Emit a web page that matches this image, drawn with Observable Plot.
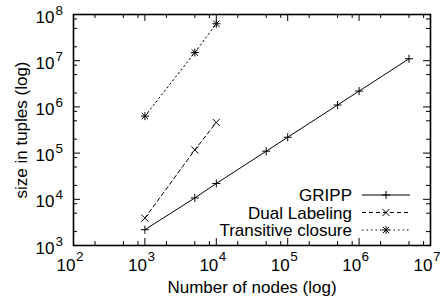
<!DOCTYPE html>
<html><head><meta charset="utf-8">
<script src="https://cdn.jsdelivr.net/npm/d3@7"></script>
<script src="https://cdn.jsdelivr.net/npm/@observablehq/plot@0.6"></script>
<style>
body{margin:0;background:#fff}
#chart{width:443px;height:299px}
</style></head><body><div id="chart"></div>
<script>
// ---- data ----
const nodesGRIPP  = [1e3, 5e3, 1e4, 5e4, 1e5, 5e5, 1e6, 5e6];
const tuplesGRIPP = [2200, 10700, 22000, 110000, 220000, 1.1e6, 2.2e6, 1.1e7];
const nodesDual   = [1e3, 5e3, 1e4];
const tuplesDual  = [3900, 1.17e5, 4.6e5];
const nodesTC     = [1e3, 5e3, 1e4];
const tuplesTC    = [6.3e5, 1.5e7, 6.3e7];
const seriesNames = ["GRIPP", "Dual Labeling", "Transitive closure"];
const xTickExps = [2, 3, 4, 5, 6, 7];
const yTickExps = [3, 4, 5, 6, 7, 8];
const minorMultipliers = [2, 5, 8];
const xLabel = "Number of nodes (log)";
const yLabel = "size in tuples (log)";

// ---- layout ----
const W = 443, H = 299;
const mL = 73, mR = 13, mT = 14, mB = 54;
const innerW = W - mL - mR, innerH = H - mT - mB;
const FONT = "'Liberation Sans', Arial, Helvetica, sans-serif";
const FS = 17, FSsup = 13.5;
const majorLen = 7, minorLen = 4;

const rows = (xs, ys) => xs.map((x, i) => ({nodes: x, tuples: ys[i]}));
const gripp = rows(nodesGRIPP, tuplesGRIPP);
const dual = rows(nodesDual, tuplesDual);
const tc = rows(nodesTC, tuplesTC);

const symPlus = {draw(c) { const r = 4; c.moveTo(-r, 0); c.lineTo(r, 0); c.moveTo(0, -r); c.lineTo(0, r); }};
const symTimes = {draw(c) { const r = 3.6; c.moveTo(-r, -r); c.lineTo(r, r); c.moveTo(-r, r); c.lineTo(r, -r); }};
const symStar = {draw(c) { const r = 4, s = 3.2;
  c.moveTo(-r, 0); c.lineTo(r, 0); c.moveTo(0, -r); c.lineTo(0, r);
  c.moveTo(-s, -s); c.lineTo(s, s); c.moveTo(-s, s); c.lineTo(s, -s); }};

const styles = [
  {dash: null, symbol: symPlus},
  {dash: "4,3", symbol: symTimes},
  {dash: "1.5,3", symbol: symStar}
];

const majorX = xTickExps.map(e => 10 ** e);
const majorY = yTickExps.map(e => 10 ** e);
const minorX = xTickExps.slice(0, -1).flatMap(e => minorMultipliers.map(m => m * 10 ** e));
const minorY = yTickExps.slice(0, -1).flatMap(e => minorMultipliers.map(m => m * 10 ** e));

function legend(index, scales, values, dims) {
  const right = dims.width - dims.marginRight;
  const bottom = dims.height - dims.marginBottom;
  const g = d3.create("svg:g").attr("font-family", FONT).attr("font-size", FS);
  seriesNames.forEach((name, i) => {
    const y = bottom - 50 + i * 17.5;
    g.append("text").attr("x", right - 78).attr("y", y + 6)
      .attr("text-anchor", "end").attr("fill", "black").text(name);
    g.append("line").attr("x1", right - 68).attr("x2", right - 20)
      .attr("y1", y).attr("y2", y).attr("stroke", "black").attr("stroke-width", 1)
      .attr("stroke-dasharray", styles[i].dash);
    const p = d3.path();
    styles[i].symbol.draw(p);
    g.append("path").attr("d", p.toString()).attr("transform", `translate(${right - 44},${y})`)
      .attr("stroke", "black").attr("fill", "none").attr("stroke-width", 1);
  });
  return g.node();
}

const data = [gripp, dual, tc];
const seriesMarks = data.flatMap((d, i) => [
  Plot.line(d, {x: "nodes", y: "tuples", stroke: "black", strokeWidth: 1, strokeDasharray: styles[i].dash}),
  Plot.dot(d, {x: "nodes", y: "tuples", symbol: styles[i].symbol, stroke: "black", fill: "none", strokeWidth: 1})
]);

const chart = Plot.plot({
  width: W, height: H,
  marginLeft: mL, marginRight: mR, marginTop: mT, marginBottom: mB,
  style: {fontFamily: FONT, fontSize: FS + "px", background: "white", color: "black"},
  x: {type: "log", domain: [1e2, 1e7], axis: null},
  y: {type: "log", domain: [1e3, 1e8], axis: null},
  marks: [
    // ticks (inward, mirrored on all four sides)
    Plot.tickX(majorX, {x: d => d, stroke: "black", insetTop: innerH - majorLen}),
    Plot.tickX(majorX, {x: d => d, stroke: "black", insetBottom: innerH - majorLen}),
    Plot.tickX(minorX, {x: d => d, stroke: "black", insetTop: innerH - minorLen}),
    Plot.tickX(minorX, {x: d => d, stroke: "black", insetBottom: innerH - minorLen}),
    Plot.tickY(majorY, {y: d => d, stroke: "black", insetRight: innerW - majorLen}),
    Plot.tickY(majorY, {y: d => d, stroke: "black", insetLeft: innerW - majorLen}),
    Plot.tickY(minorY, {y: d => d, stroke: "black", insetRight: innerW - minorLen}),
    Plot.tickY(minorY, {y: d => d, stroke: "black", insetLeft: innerW - minorLen}),
    // tick labels 10^n
    Plot.text(xTickExps, {x: e => 10 ** e, text: () => "10", frameAnchor: "bottom", dy: 25, dx: 2,
      textAnchor: "end", lineAnchor: "bottom", fontSize: FS, fill: "black"}),
    Plot.text(xTickExps, {x: e => 10 ** e, text: e => String(e), frameAnchor: "bottom", dy: 15, dx: 2.5,
      textAnchor: "start", lineAnchor: "bottom", fontSize: FSsup, fill: "black"}),
    Plot.text(yTickExps, {y: e => 10 ** e, text: () => "10", frameAnchor: "left", dx: -19, dy: 8,
      textAnchor: "end", lineAnchor: "bottom", fontSize: FS, fill: "black"}),
    Plot.text(yTickExps, {y: e => 10 ** e, text: e => String(e), frameAnchor: "left", dx: -18, dy: 0,
      textAnchor: "start", lineAnchor: "bottom", fontSize: FSsup, fill: "black"}),
    // axis titles
    Plot.text([xLabel], {text: d => d, frameAnchor: "bottom", dy: 47, textAnchor: "middle", lineAnchor: "bottom", fontSize: FS, fill: "black"}),
    Plot.text([yLabel], {text: d => d, frameAnchor: "left", dx: -46.5, rotate: -90, textAnchor: "middle", lineAnchor: "bottom", fontSize: FS, fill: "black"}),
    ...seriesMarks,
    legend,
    Plot.frame({stroke: "black", strokeWidth: 1.6})
  ]
});
document.getElementById("chart").appendChild(chart);
</script></body></html>
